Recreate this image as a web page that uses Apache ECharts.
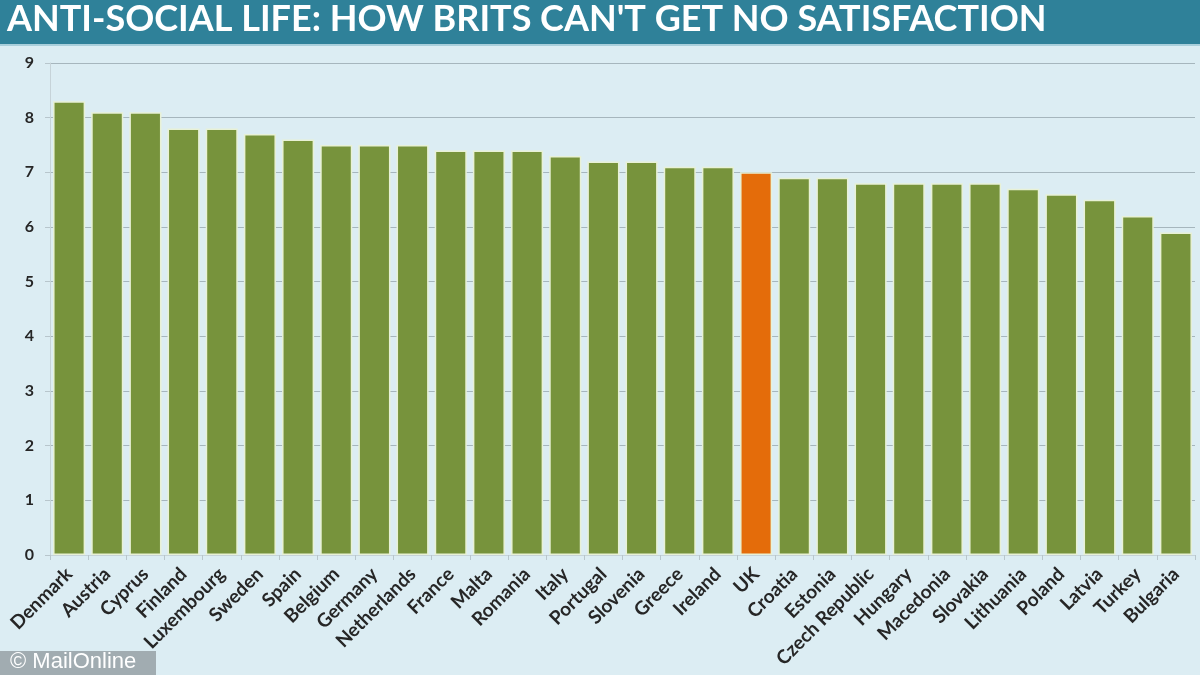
<!DOCTYPE html>
<html>
<head>
<meta charset="utf-8">
<script src="https://cdn.jsdelivr.net/npm/echarts@6/dist/echarts.min.js"></script>
<style>
html,body{margin:0;padding:0;background:#dcedf3;}
#chart{width:1200px;height:675px;}
</style>
</head>
<body>
<div id="chart"></div>
<script>
const titleText = "ANTI-SOCIAL LIFE: HOW BRITS CAN'T GET NO SATISFACTION";
const countries = ["Denmark","Austria","Cyprus","Finland","Luxembourg","Sweden","Spain","Belgium","Germany","Netherlands","France","Malta","Romania","Italy","Portugal","Slovenia","Greece","Ireland","UK","Croatia","Estonia","Czech Republic","Hungary","Macedonia","Slovakia","Lithuania","Poland","Latvia","Turkey","Bulgaria"];
const satisfaction = [8.3,8.1,8.1,7.8,7.8,7.7,7.6,7.5,7.5,7.5,7.4,7.4,7.4,7.3,7.2,7.2,7.1,7.1,7.0,6.9,6.9,6.8,6.8,6.8,6.8,6.7,6.6,6.5,6.2,5.9];
const highlight = "UK";
const yTicks = [0,1,2,3,4,5,6,7,8,9];

const green = '#77933c', orange = '#e46c0a';
const chart = echarts.init(document.getElementById('chart'));
chart.setOption({
  backgroundColor: '#dcedf3',
  animation: false,
  grid: {left: 50, right: 5, top: 63, bottom: 120},
  graphic: [
    {type:'rect', left:0, top:0, shape:{width:1200, height:44}, style:{fill:'#2f8199'}, z:10},
    {type:'rect', left:0, top:44, shape:{width:1200, height:2}, style:{fill:'#a9cfdb'}, z:10},
    {type:'text', left:7, top:1, style:{text:titleText, fill:'#ffffff', font:'bold 36px Lato, "Open Sans", sans-serif'}, z:11},
    {type:'rect', left:0, top:651, shape:{width:156, height:24}, style:{fill:'rgba(150,160,165,0.85)'}, z:10},
    {type:'text', left:10, top:651, style:{text:'© MailOnline', fill:'#ffffff', font:'22px "Liberation Sans", Arial, sans-serif'}, z:11}
  ],
  xAxis: {
    type: 'category',
    data: countries,
    axisLine: {lineStyle: {color: '#c6d3d8', width: 1}},
    axisTick: {show: true, length: 5, lineStyle: {color: '#b8c6cc'}},
    axisLabel: {rotate: 45, interval: 0, color: '#262626', fontWeight: 'bold', fontSize: 19, fontFamily: 'Lato, "Open Sans", sans-serif', margin: 16}
  },
  yAxis: {
    type: 'value',
    min: yTicks[0], max: yTicks[yTicks.length-1], interval: 1,
    axisLine: {show: true, lineStyle: {color: '#c6d3d8'}},
    axisTick: {show: true, length: 5, lineStyle: {color: '#b8c6cc'}},
    splitLine: {lineStyle: {color: '#a6b6bd', width: 1.2}},
    axisLabel: {color: '#262626', fontWeight: 'bold', fontSize: 16, fontFamily: 'Lato, "Open Sans", sans-serif', margin: 16}
  },
  series: [{
    type: 'bar',
    data: satisfaction.map((v,i)=>({value:v, itemStyle:{color: countries[i]===highlight ? orange : green}})),
    barCategoryGap: '16%',
    itemStyle: {borderColor: '#e8f1d6', borderWidth: 1.5}
  }]
});
</script>
</body>
</html>
